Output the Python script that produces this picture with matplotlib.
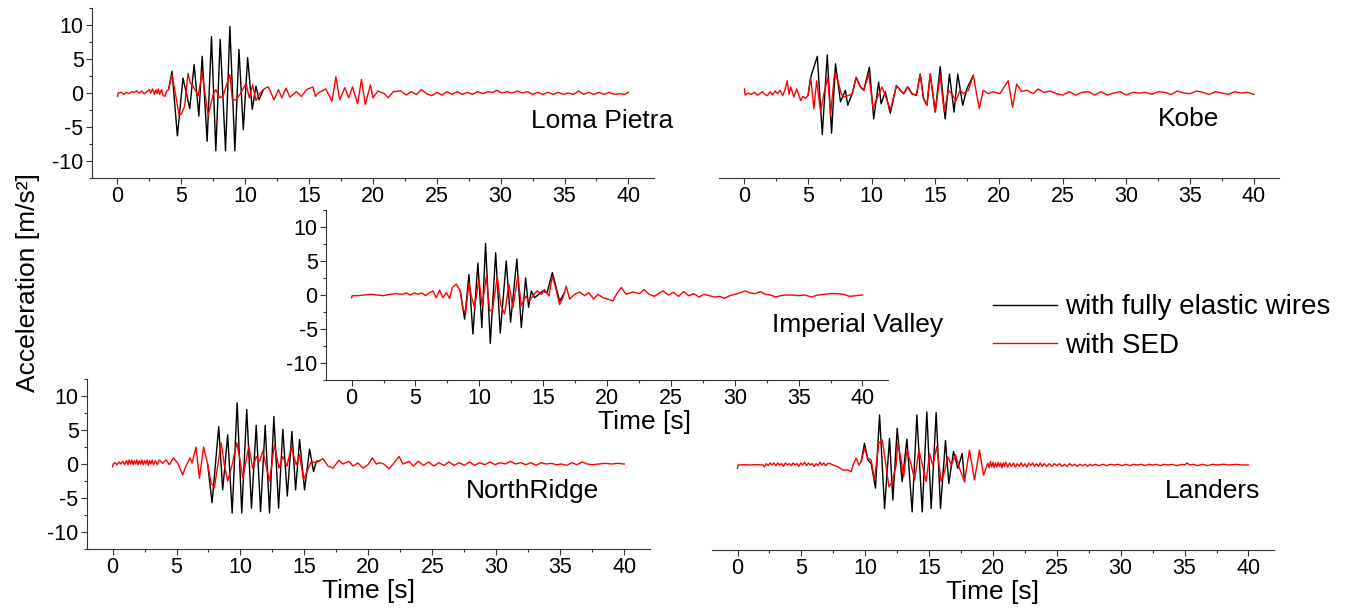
import numpy as np
import matplotlib
matplotlib.use("Agg")
import matplotlib.pyplot as plt
from matplotlib.ticker import MultipleLocator
from matplotlib.lines import Line2D

plt.rcParams["font.family"] = ["Liberation Sans", "DejaVu Sans"]
plt.rcParams["axes.unicode_minus"] = False

# (time [s], acceleration [m/s^2])
LOMA_RED = [(0.0, -0.5), (0.05, 0.0), (0.3, 0.1), (0.5, -0.2), (0.7, 0.1), (0.9, -0.1), (1.1, 0.2), (1.3, 0.1),
            (1.5, 0.3), (1.7, 0.0), (1.9, 0.3), (2.1, -0.1), (2.3, 0.2), (2.5, 0.5), (2.6, 0.0), (2.75, 0.6),
            (2.9, -0.2), (3.0, 0.5), (3.1, -0.1), (3.2, 0.6), (3.3, -0.2), (3.45, 0.5), (3.55, -0.3), (3.72, -0.5),
            (3.85, 0.3), (4.0, 0.5), (4.27, 2.7), (4.48, 0.5), (4.82, -3.2), (5.0, -3.1), (5.26, -1.9), (5.52, 2.9),
            (5.7, 1.5), (5.86, 1.2), (6.0, 0.7), (6.32, -0.4), (6.63, 3.0), (6.84, 0.0), (7.1, -3.3), (7.49, -0.2),
            (7.7, 0.5), (8.01, -0.7), (8.27, -0.4), (8.8, 2.7), (9.0, -1.0), (9.27, -1.0), (9.59, -0.2), (10.06, 1.4),
            (10.32, -0.7), (10.58, 1.2), (10.84, -1.1), (11.16, 0.0), (11.55, 0.7), (11.81, 0.9), (12.26, -1.0),
            (12.6, 0.5), (12.86, -0.7), (13.2, 0.7), (13.5, -0.6), (14.0, 0.2), (14.4, -0.5), (14.8, 0.5), (15.3, 0.9),
            (15.5, -0.5), (15.7, 0.0), (16.3, 0.6), (16.8, -1.2), (17.1, 2.4), (17.4, -1.0), (17.8, 0.8), (18.1, -0.7),
            (18.4, 0.9), (18.8, -1.6), (19.1, 2.0), (19.4, -1.7), (19.8, 1.2), (20.0, -0.7), (20.4, 0.3), (20.9, -0.1),
            (21.2, -0.7), (21.6, 0.2), (22.2, 0.3), (22.6, -0.3), (23.0, 0.2), (23.4, -0.2), (23.8, 0.5), (24.2, -0.1),
            (24.6, -0.4), (25.0, 0.1), (25.4, -0.3), (25.8, 0.2), (26.2, -0.2), (26.6, 0.2), (27.0, -0.2), (27.4, 0.1),
            (27.8, -0.2), (28.2, 0.2), (28.6, -0.1), (29.0, 0.2), (29.4, 0.1), (29.7, 0.4), (30.1, 0.0), (30.5, 0.2),
            (30.9, 0.0), (31.3, 0.3), (31.7, 0.0), (32.1, 0.2), (32.5, -0.2), (32.9, 0.1), (33.3, -0.2), (33.7, 0.1),
            (34.1, -0.2), (34.5, 0.1), (34.9, -0.2), (35.3, 0.0), (35.7, -0.2), (36.1, 0.3), (36.5, -0.2), (36.9, 0.1),
            (37.3, -0.2), (37.7, 0.1), (38.1, -0.2), (38.5, 0.1), (38.9, -0.2), (39.3, -0.1), (39.7, -0.2), (40.0, 0.1)]
LOMA_BLACK = [(4.0, 0.5), (4.27, 3.2), (4.69, -6.3), (5.13, 2.2), (5.66, -2.3), (6.0, 4.2), (6.37, -3.4), (6.63, 5.4),
              (7.02, -7.1), (7.36, 8.3), (7.7, -8.5), (8.04, 7.9), (8.46, -8.5), (8.8, 9.8), (9.19, -8.5), (9.51, 6.4),
              (9.85, -5.4), (10.19, 5.2), (10.55, -2.4), (10.84, 1.0), (11.08, -1.0), (11.42, 0.5)]

KOBE_RED = [(0.0, 0.6), (0.05, -0.3), (0.3, 0.0), (0.5, -0.2), (0.8, 0.1), (1.0, -0.3), (1.2, -0.1), (1.4, 0.2),
            (1.6, -0.2), (1.8, -0.4), (2.0, 0.2), (2.2, -0.3), (2.4, 0.3), (2.6, -0.1), (2.8, 0.4), (3.0, -0.4),
            (3.2, 0.6), (3.36, 1.8), (3.5, -0.2), (3.63, 0.9), (3.89, -0.6), (4.1, 0.6), (4.41, -1.1), (4.6, -0.5),
            (4.8, -0.8), (5.0, -0.3), (5.2, 2.3), (5.45, -2.3), (5.67, 1.8), (5.98, -2.8), (6.24, -0.1), (6.55, 2.3),
            (6.76, -3.3), (7.07, 2.8), (7.33, 1.8), (7.6, -0.1), (7.8, -0.6), (8.19, -0.35), (8.46, -0.1), (8.77, 2.3),
            (9.11, 0.9), (9.37, 0.4), (9.76, 2.8), (10.1, -2.3), (10.41, -0.8), (10.81, 0.9), (11.2, -1.1),
            (11.46, -2.5), (11.93, 1.1), (12.24, 0.4), (12.5, -0.1), (12.81, 0.9), (13.15, -0.1), (13.5, -0.35),
            (13.8, 2.8), (14.06, -0.8), (14.33, -1.8), (14.59, 2.8), (14.98, -2.8), (15.37, 2.6), (15.68, -2.8),
            (16.02, 0.4), (16.28, -0.1), (16.62, -1.1), (16.93, 0.4), (17.19, -0.1), (17.58, 0.4), (17.97, 2.6),
            (18.44, -2.3), (18.75, 0.4), (19.15, -0.1), (19.54, 0.2), (20.06, -0.1), (20.71, 1.8), (21.06, -2.1),
            (21.37, 1.3), (21.76, 0.25), (22.2, 0.4), (22.67, -0.1), (23.06, 0.6), (23.5, 0.1), (24.0, 0.3),
            (24.5, -0.1), (25.0, -0.3), (25.5, 0.2), (26.0, -0.3), (26.5, 0.1), (27.0, 0.2), (27.5, -0.3), (28.0, 0.2),
            (28.5, -0.3), (29.0, 0.0), (29.5, 0.2), (30.0, -0.3), (30.5, 0.1), (31.0, 0.0), (31.5, 0.1), (32.0, -0.2),
            (32.5, 0.2), (33.0, 0.1), (33.5, -0.2), (34.0, 0.3), (34.5, 0.0), (35.0, -0.1), (35.5, 0.3), (36.0, 0.1),
            (36.5, -0.2), (37.0, 0.2), (37.5, 0.0), (38.0, -0.2), (38.5, 0.2), (39.0, 0.0), (39.5, 0.1), (40.0, -0.2)]
KOBE_BLACK = [(5.0, -0.3), (5.2, 2.3), (5.72, 5.4), (6.11, -6.1), (6.5, 5.6), (6.84, -5.9), (7.15, 4.3), (7.54, -1.3),
              (7.93, 0.4), (8.11, -1.8), (8.46, -0.1), (8.77, 2.3), (9.11, 0.9), (9.37, 0.4), (9.81, 3.8),
              (10.15, -3.8), (10.54, 1.6), (10.73, -1.6), (11.06, 0.2), (11.45, -3.0), (11.93, 1.1), (12.24, 0.4),
              (12.5, -0.1), (12.81, 0.9), (13.15, -0.1), (13.5, -0.35), (13.8, 2.8), (14.06, -0.8), (14.33, -1.8),
              (14.59, 2.8), (14.98, -2.8), (15.37, 3.9), (15.76, -3.8), (16.1, 2.8), (16.46, -2.8), (16.75, 2.8),
              (17.14, -1.8), (17.46, 0.6), (17.97, 2.6)]

IMPERIAL_RED = [(0.0, -0.4), (0.05, -0.1), (0.5, -0.1), (1.0, 0.0), (1.5, 0.1), (2.0, 0.0), (2.5, -0.1), (3.0, 0.1),
                (3.5, 0.2), (4.0, 0.1), (4.3, 0.3), (4.6, 0.0), (4.9, 0.3), (5.2, 0.1), (5.5, 0.3), (5.8, -0.1),
                (6.11, 0.35), (6.37, 0.6), (6.63, -0.4), (6.89, 0.7), (7.15, -0.4), (7.42, 0.35), (7.67, -0.5),
                (7.89, 1.1), (8.2, 1.6), (8.51, 0.6), (8.72, -2.1), (8.93, -2.6), (9.19, 1.8), (9.37, -0.15),
                (9.63, -1.85), (9.97, 2.3), (10.23, -1.6), (10.55, 2.7), (10.81, -2.3), (11.02, -2.3), (11.41, 2.7),
                (11.67, -1.4), (11.98, -2.8), (12.32, 1.6), (12.63, -1.85), (13.02, 2.8), (13.29, -1.6), (13.63, -0.15),
                (13.89, -0.9), (14.2, -0.15), (14.51, 0.6), (14.86, 0.1), (15.11, 0.8), (15.45, -0.15), (15.72, 2.8),
                (15.97, 1.1), (16.29, -1.4), (16.55, -0.4), (16.81, 1.3), (17.07, -0.6), (17.46, 0.1), (17.85, 0.45),
                (18.25, -0.1), (18.58, 0.35), (18.95, -0.6), (19.29, 0.1), (19.68, -0.4), (20.07, -0.6), (20.46, -0.9),
                (20.73, 0.1), (21.12, 1.1), (21.5, 0.1), (22.03, 0.45), (22.55, 0.2), (22.9, 0.8), (23.3, 0.1),
                (23.7, -0.2), (24.1, 0.3), (24.4, 0.6), (24.8, 0.0), (25.2, 0.4), (25.6, -0.2), (26.0, 0.5),
                (26.4, -0.1), (26.8, 0.2), (27.2, -0.3), (27.6, 0.1), (28.0, -0.1), (28.4, -0.3), (28.8, -0.2),
                (29.2, -0.5), (29.6, -0.1), (30.0, 0.1), (30.4, 0.3), (30.8, 0.6), (31.2, 0.3), (31.6, 0.2), (32.0, 0.5),
                (32.4, 0.1), (32.8, 0.0), (33.2, -0.3), (33.6, -0.1), (34.0, 0.0), (34.5, 0.0), (35.0, -0.1),
                (35.5, 0.0), (36.0, -0.3), (36.5, 0.0), (37.0, 0.1), (37.5, 0.2), (38.0, 0.2), (38.5, 0.1),
                (39.0, -0.2), (39.5, -0.1), (40.0, 0.0)]
IMPERIAL_BLACK = [(8.51, 0.6), (8.85, -3.55), (9.19, 3.0), (9.5, -5.75), (9.89, 4.7), (10.2, -4.8), (10.49, 7.6),
                  (10.86, -7.1), (11.28, 6.2), (11.64, -5.6), (12.11, 5.0), (12.45, -4.0), (12.94, 5.3), (13.29, -4.8),
                  (13.63, 2.5), (13.86, -1.8), (14.07, 0.6), (14.33, -0.4), (14.98, 0.6), (15.3, 0.3), (15.72, 3.3),
                  (16.29, -0.9), (16.68, 0.35)]

NORTH_RED = [(0.0, -0.4), (0.05, 0.0), (0.2, 0.2), (0.35, -0.1), (0.5, 0.3), (0.65, 0.0), (0.8, 0.4), (0.95, -0.1),
             (1.1, 0.5), (1.2, -0.1), (1.3, 0.6), (1.4, 0.0), (1.5, 0.6), (1.6, -0.1), (1.7, 0.5), (1.8, 0.0),
             (1.9, 0.6), (2.0, -0.1), (2.1, 0.5), (2.2, 0.0), (2.3, 0.6), (2.4, -0.1), (2.5, 0.5), (2.6, 0.0),
             (2.7, 0.6), (2.8, -0.2), (2.9, 0.5), (3.0, 0.0), (3.1, 0.6), (3.2, -0.1), (3.35, 0.5), (3.5, -0.1),
             (3.66, 0.6), (3.92, 0.1), (4.18, 0.6), (4.44, -0.1), (4.75, 0.9), (5.09, 0.15), (5.48, -1.6),
             (5.74, -0.3), (6.06, 0.9), (6.21, 0.15), (6.53, 2.5), (6.79, -2.1), (7.12, 2.5), (7.44, -0.1),
             (7.7, -2.8), (7.96, -3.5), (8.22, -0.3), (8.49, 3.1), (8.75, -0.3), (9.0, -2.5), (9.35, -0.1),
             (9.71, 3.1), (9.92, 1.1), (10.18, -2.1), (10.65, 2.6), (10.96, -0.6), (11.23, 1.1), (11.49, 0.4),
             (11.75, 1.9), (12.06, -0.8), (12.27, -2.5), (12.66, 2.9), (13.0, -0.6), (13.31, 1.1), (13.63, -0.3),
             (13.97, 2.4), (14.36, -0.1), (14.62, 1.4), (14.93, -2.3), (15.27, -0.8), (15.54, 0.4), (15.87, 0.15),
             (16.44, 0.8), (16.84, -0.3), (17.23, -0.6), (17.7, 0.55), (18.0, 0.0), (18.48, 0.4), (18.79, -0.3),
             (19.18, 0.15), (19.58, -0.6), (19.97, -0.1), (20.31, 0.9), (20.62, 0.0), (20.88, 0.2), (21.2, 0.0),
             (21.62, -0.7), (21.93, 0.0), (22.4, 1.1), (22.7, 0.0), (23.18, 0.4), (23.5, -0.3), (23.9, 0.4),
             (24.3, -0.2), (24.7, 0.3), (25.1, -0.3), (25.5, 0.2), (25.9, -0.2), (26.3, 0.3), (26.7, -0.2),
             (27.1, 0.2), (27.5, -0.2), (27.9, 0.3), (28.3, -0.2), (28.7, 0.2), (29.1, -0.1), (29.5, 0.3),
             (29.9, -0.1), (30.3, 0.2), (30.7, 0.0), (31.1, 0.4), (31.5, 0.0), (31.9, 0.2), (32.3, -0.1), (32.7, 0.2),
             (33.1, -0.2), (33.5, 0.2), (33.9, 0.0), (34.3, 0.1), (34.7, -0.1), (35.1, 0.0), (35.5, -0.2),
             (35.9, 0.2), (36.3, -0.1), (36.7, 0.3), (37.1, 0.0), (37.5, -0.1), (38.0, 0.0), (38.5, 0.1), (39.0, 0.0),
             (39.5, 0.1), (40.0, 0.0)]
NORTH_BLACK = [(7.44, -0.1), (7.78, -5.7), (8.3, 5.5), (8.61, -3.8), (9.0, 4.3), (9.35, -7.2), (9.74, 9.0),
               (10.1, -7.2), (10.49, 8.0), (10.86, -6.5), (11.23, 5.7), (11.57, -7.0), (11.93, 5.7), (12.27, -7.2),
               (12.61, 7.0), (12.98, -6.5), (13.31, 5.1), (13.66, -4.7), (14.02, 4.8), (14.31, -3.8), (14.62, 3.6),
               (15.01, -3.8), (15.4, 2.2), (15.71, -1.1), (15.93, 0.4), (16.2, 0.5)]

LANDERS_RED = [(0.0, -0.5), (0.05, 0.0), (0.5, 0.05), (1.0, 0.0), (1.5, 0.05), (2.0, 0.0), (2.1, -0.3), (2.25, 0.2),
               (2.4, -0.1), (2.55, 0.3), (2.7, 0.0), (2.85, 0.3), (3.0, -0.1), (3.15, 0.3), (3.3, 0.0), (3.45, 0.2),
               (3.6, -0.2), (3.75, 0.3), (3.9, 0.0), (4.05, 0.2), (4.2, -0.1), (4.35, 0.3), (4.5, 0.0), (4.65, 0.2),
               (4.8, -0.2), (4.95, 0.3), (5.1, 0.0), (5.25, 0.4), (5.4, -0.1), (5.55, 0.3), (5.7, 0.0), (5.85, 0.2),
               (6.0, -0.2), (6.15, 0.2), (6.3, -0.1), (6.45, 0.4), (6.6, 0.0), (6.75, 0.3), (6.9, -0.1), (7.05, 0.2),
               (7.2, 0.25), (7.46, 0.0), (7.85, -0.25), (8.24, -0.74), (8.63, -0.74), (8.9, -1.0), (9.08, 0.2),
               (9.29, 1.0), (9.5, 0.0), (9.68, 0.5), (9.94, 2.45), (10.2, 1.0), (10.46, 0.74), (10.72, -2.2),
               (11.06, 3.2), (11.33, 3.7), (11.64, -0.25), (11.85, -3.2), (12.11, -2.45), (12.42, 0.0), (12.55, 3.3),
               (12.81, 0.74), (13.0, -1.7), (13.26, 2.2), (13.6, 0.0), (13.86, -2.2), (14.2, 2.2), (14.5, -0.25),
               (14.77, -2.45), (15.03, 1.7), (15.29, 0.0), (15.6, 2.7), (15.94, -2.45), (16.2, -1.0), (16.46, 1.2),
               (16.73, 0.0), (17.06, 1.5), (17.38, -0.5), (17.77, -2.45), (18.16, 2.2), (18.55, -2.2), (18.94, 2.2),
               (19.26, -1.5), (19.59, 0.25), (19.7, -0.4), (19.8, 0.5), (19.9, -0.3), (20.0, 0.4), (20.1, -0.4),
               (20.2, 0.3), (20.3, -0.3), (20.4, 0.4), (20.5, -0.2), (20.6, 0.3), (20.7, -0.4), (20.8, 0.3),
               (20.9, -0.2), (21.0, 0.4), (21.15, -0.3), (21.3, 0.3), (21.45, -0.2), (21.6, 0.3), (21.75, -0.3),
               (21.9, 0.2), (22.05, -0.2), (22.2, 0.3), (22.35, -0.2), (22.5, 0.2), (22.65, -0.3), (22.8, 0.3),
               (22.95, -0.1), (23.1, 0.3), (23.25, -0.2), (23.4, 0.2), (23.55, -0.2), (23.7, 0.3), (23.85, -0.2),
               (24.0, 0.2), (24.2, -0.2), (24.4, 0.2), (24.6, -0.2), (24.8, 0.2), (25.0, -0.1), (25.2, 0.2),
               (25.4, -0.2), (25.6, 0.1), (25.8, -0.2), (26.0, 0.2), (26.2, -0.1), (26.4, 0.1), (26.6, -0.2),
               (26.8, 0.1), (27.0, -0.1), (27.2, 0.1), (27.4, -0.2), (27.6, 0.1), (27.8, -0.1), (28.0, 0.1),
               (28.3, -0.1), (28.6, 0.1), (28.9, -0.1), (29.2, 0.1), (29.5, 0.0), (29.8, 0.1), (30.1, -0.1),
               (30.4, 0.1), (30.7, -0.1), (31.0, 0.1), (31.3, 0.0), (31.6, 0.1), (31.9, -0.1), (32.2, 0.1), (32.5, 0.0),
               (32.8, 0.1), (33.1, -0.1), (33.4, 0.1), (33.7, 0.0), (34.0, 0.1), (34.4, -0.1), (34.8, 0.1), (35.0, 0.0),
               (35.2, 0.3), (35.4, 0.0), (35.7, 0.1), (36.0, -0.1), (36.4, 0.1), (36.8, -0.1), (37.2, 0.1),
               (37.6, 0.0), (38.0, 0.1), (38.5, 0.0), (39.0, 0.1), (39.5, 0.0), (40.0, 0.0)]
LANDERS_BLACK = [(9.68, 0.5), (9.94, 3.2), (10.2, 0.74), (10.46, 0.25), (10.8, -3.4), (11.12, 7.35), (11.51, -6.4),
                 (11.9, 3.9), (12.16, -5.15), (12.5, 5.4), (12.89, -2.45), (13.26, 3.8), (13.67, -6.9), (14.04, 7.35),
                 (14.46, -6.9), (14.82, 7.8), (15.16, -6.4), (15.55, 7.7), (15.89, -6.4), (16.28, 3.6), (16.54, -2.7),
                 (16.91, 2.0), (17.25, -0.5), (17.59, 1.7), (17.77, -2.45)]

# name, black, red, axes rect [left, bottom, w, h], y-axis shown, x-label x pos (None = no label),
# name pos (axes frac)
PANELS = [
    ("Loma Pietra", LOMA_BLACK, LOMA_RED, [0.0681, 0.7072, 0.4163, 0.2796], True, None, (1.034, 0.294)),
    ("Kobe", KOBE_BLACK, KOBE_RED, [0.5326, 0.7072, 0.4150, 0.2796], False, None, (0.893, 0.306)),
    ("Imperial Valley", IMPERIAL_BLACK, IMPERIAL_RED, [0.2415, 0.3750, 0.4163, 0.2796], True, 0.566, (1.098, 0.282)),
    ("NorthRidge", NORTH_BLACK, NORTH_RED, [0.0644, 0.0970, 0.4170, 0.2796], True, 0.5, (0.909, 0.300)),
    ("Landers", LANDERS_BLACK, LANDERS_RED, [0.5274, 0.0954, 0.4163, 0.2796], False, 0.5, (0.975, 0.308)),
]

fig = plt.figure(figsize=(13.5, 6.08), dpi=100)
AX_C = "#333333"

for name, blk, red, rect, yaxis, xlab, npos in PANELS:
    ax = fig.add_axes(rect)
    ax.set_facecolor("none")
    tb, ab = np.array(blk).T
    tr, ar = np.array(red).T
    ax.plot(tb, ab, color="black", lw=1.0)
    ax.plot(tr, ar, color="#ff0000", lw=1.0)
    ax.set_xlim(-2, 42)
    ax.set_ylim(-12.5, 12.5)
    ax.set_xticks(np.arange(0, 41, 5))
    ax.xaxis.set_minor_locator(MultipleLocator(2.5))
    for s in ("top", "right"):
        ax.spines[s].set_visible(False)
    ax.spines["bottom"].set_color(AX_C)
    ax.spines["left"].set_color(AX_C)
    ax.tick_params(axis="x", which="major", direction="out", length=4, width=0.8,
                   color=AX_C, labelsize=15.5, pad=2)
    ax.tick_params(axis="x", which="minor", direction="out", length=2, width=0.8, color=AX_C)
    if yaxis:
        ax.set_yticks([-10, -5, 0, 5, 10])
        ax.yaxis.set_minor_locator(MultipleLocator(2.5))
        ax.tick_params(axis="y", which="major", direction="out", length=4, width=0.8,
                       color=AX_C, labelsize=15.5, pad=2)
        ax.tick_params(axis="y", which="minor", direction="out", length=2, width=0.8, color=AX_C)
    else:
        ax.spines["left"].set_visible(False)
        ax.set_yticks([])
    if xlab is not None:
        ax.set_xlabel("Time [s]", fontsize=19)
        ax.xaxis.set_label_coords(xlab, -0.245)
        ax.xaxis.label.set_va("center")
    ax.text(npos[0], npos[1], name, transform=ax.transAxes, ha="right", va="baseline",
            fontsize=19, clip_on=False)

fig.text(0.021, 0.536, "Acceleration [m/s²]", rotation=90, ha="center", va="center", fontsize=19)

handles = [Line2D([0], [0], color="black", lw=1.0), Line2D([0], [0], color="#ff0000", lw=1.0)]
fig.legend(handles, ["with fully elastic wires", "with SED"], loc="center left",
           bbox_to_anchor=(0.7273, 0.463), frameon=False, fontsize=20, borderaxespad=0,
           handlelength=2.3, handletextpad=0.3, labelspacing=0.45, borderpad=0.4)

fig.savefig("out.png", dpi=100)
